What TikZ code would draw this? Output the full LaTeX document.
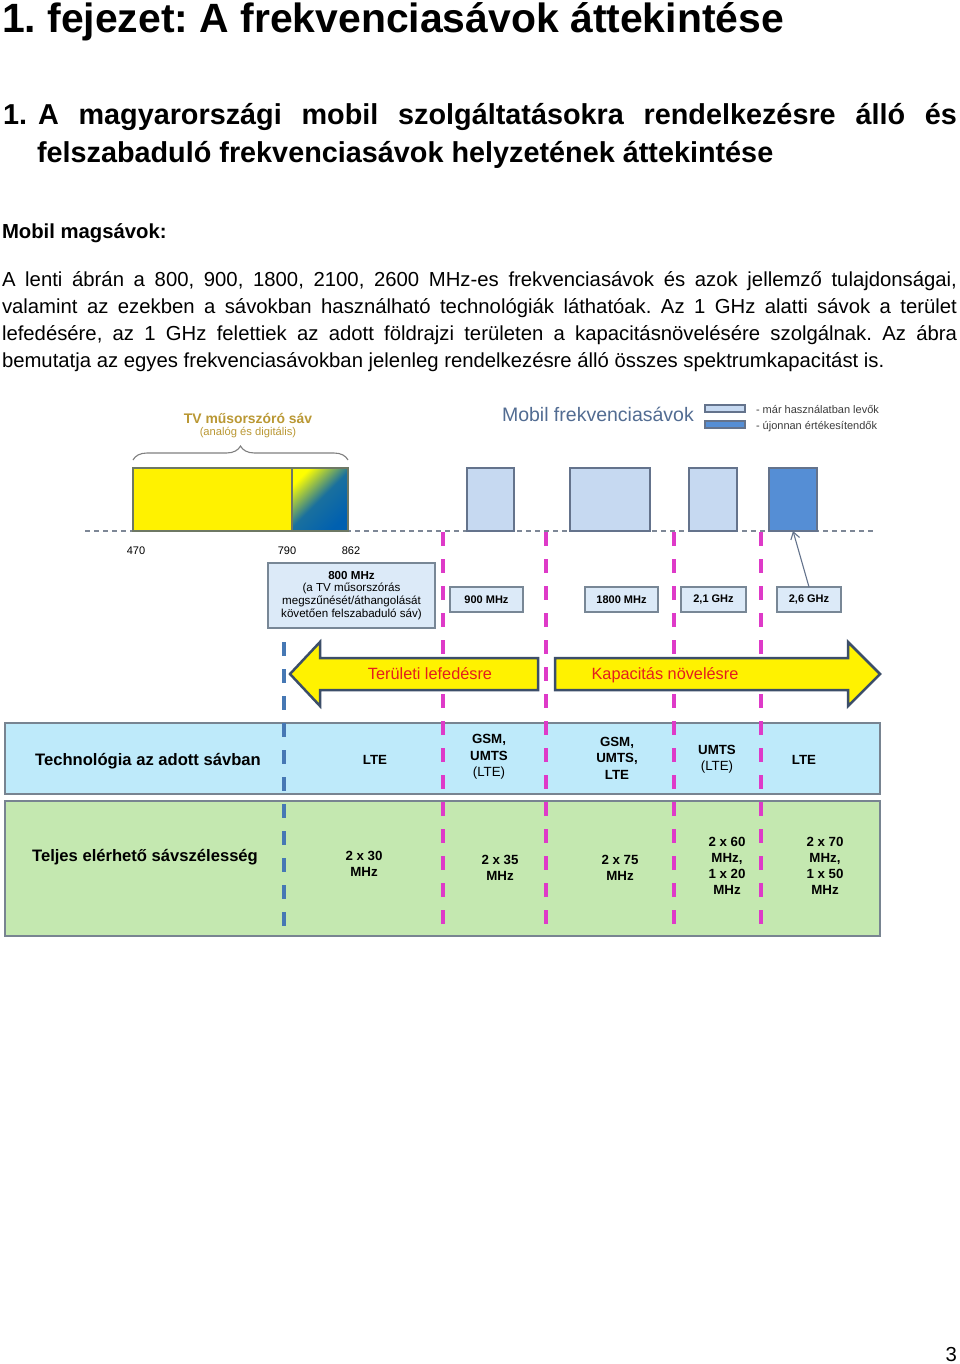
\documentclass[tikz,border=0pt]{standalone}
\usepackage{fontspec}
\setmainfont{Liberation Sans}
\usetikzlibrary{arrows.meta,decorations.pathreplacing}
\definecolor{tvgold}{RGB}{186,152,52}
\definecolor{slate}{RGB}{82,108,146}
\definecolor{bandfill}{RGB}{198,217,241}
\definecolor{bandnew}{RGB}{85,142,213}
\definecolor{bandedge}{RGB}{100,115,140}
\definecolor{labfill}{RGB}{220,234,248}
\definecolor{labedge}{RGB}{120,135,150}
\definecolor{tabblue}{RGB}{190,234,250}
\definecolor{tabgreen}{RGB}{196,232,176}
\definecolor{tabedge}{RGB}{120,132,145}
\definecolor{pinkdash}{RGB}{222,58,200}
\definecolor{bluedash}{RGB}{70,120,180}
\definecolor{basegray}{RGB}{125,135,150}
\definecolor{arrowedge}{RGB}{60,78,105}
\definecolor{arrowred}{RGB}{228,30,30}
\definecolor{tvblue}{RGB}{0,96,176}
\definecolor{tvedge}{RGB}{110,120,100}
\definecolor{legendtxt}{RGB}{60,60,60}
\frenchspacing
\begin{document}
\begin{tikzpicture}[x=1pt,y=-1pt,
  every node/.style={inner sep=0pt, outer sep=0pt},
  bodyline/.style={anchor=base west, font=\fontsize{20.3}{24}\selectfont},
  rbox/.style={anchor=north west, line width=1.2pt},
  bandbox/.style={rbox, draw=bandedge, fill=bandfill},
  bandnewbox/.style={rbox, draw=bandedge, fill=bandnew},
  labbox/.style={rbox, draw=labedge, fill=labfill, line width=1.4pt},
  labtxt/.style={font=\fontsize{11}{13}\selectfont\bfseries},
  freqtxt/.style={font=\fontsize{11}{13}\selectfont},
  pinkline/.style={draw=pinkdash, line width=4pt, dash pattern=on 14pt off 13pt},
  blueline/.style={draw=bluedash, line width=4pt, dash pattern=on 14pt off 13pt},
  bigarrow/.style={fill=yellow, draw=arrowedge, line width=2.5pt, line join=miter},
  arrowtxt/.style={text=arrowred, font=\fontsize{16.3}{19}\selectfont},
  tabbox/.style={rbox, draw=tabedge, line width=1.4pt},
  rowhead/.style={font=\fontsize{16.6}{20}\selectfont\bfseries},
  celltxt/.style={align=center, font=\fontsize{13.3}{16.5}\selectfont},
  cellbold/.style={align=center, font=\fontsize{13.3}{16}\selectfont\bfseries},
  headtxt/.style={anchor=base west, font=\fontsize{28.8}{34}\selectfont\bfseries},
]
\useasboundingbox (0,0) rectangle (960,1364);
\fill[white] (0,0) rectangle (960,1364);

% ---------- page text ----------
\node[anchor=base west, font=\fontsize{40.9}{48}\selectfont\bfseries] (title) at (2,33) {1. fejezet: A frekvenciasávok áttekintése};
\node[headtxt] (hnum) at (3,125) {1.};
\node[headtxt] (h1) at (38,125) {\makebox[919pt][s]{A magyarországi mobil szolgáltatásokra rendelkezésre álló és}};
\node[headtxt] (h2) at (37,163) {felszabaduló frekvenciasávok helyzetének áttekintése};
\node[bodyline, font=\fontsize{20.3}{24}\selectfont\bfseries] (sub) at (2,239) {Mobil magsávok:};
\node[bodyline] (p1) at (2,286) {\makebox[955pt][s]{A lenti ábrán a 800, 900, 1800, 2100, 2600 MHz-es frekvenciasávok és azok jellemző tulajdonságai,}};
\node[bodyline] (p2) at (2,313) {\makebox[955pt][s]{valamint az ezekben a sávokban használható technológiák láthatóak. Az 1 GHz alatti sávok a terület}};
\node[bodyline] (p3) at (2,340) {\makebox[955pt][s]{lefedésére, az 1 GHz felettiek az adott földrajzi területen a kapacitásnövelésére szolgálnak. Az ábra}};
\node[bodyline] (p4) at (2,367) {bemutatja az egyes frekvenciasávokban jelenleg rendelkezésre álló összes spektrumkapacitást is.};
\node[anchor=base east, font=\fontsize{20.3}{24}\selectfont] (pnum) at (957,1361) {3};

% ---------- TV band ----------
\node[text=tvgold, font=\fontsize{13.9}{16}\selectfont\bfseries] (tvt) at (248,418) {TV műsorszóró sáv};
\node[text=tvgold, font=\fontsize{11.2}{13}\selectfont] (tvs) at (248,433) {(analóg és digitális)};
\draw[draw=gray, line width=1.1pt, decorate, decoration={brace, amplitude=14pt}] (133,460) -- (348,460);

% baseline
\draw[draw=basegray, line width=1.6pt, dash pattern=on 5pt off 4pt] (85,531) -- (875,531);

\node[rbox, draw=tvedge, fill=yellow, minimum width=159, minimum height=63] (tvy) at (133,468) {};
\shade[shading=axis, top color=yellow, bottom color=tvblue, middle color=tvblue!90!yellow, shading angle=45] (292,468) rectangle (348,531);
\node[rbox, draw=tvedge, minimum width=56, minimum height=63] (tvg) at (292,468) {};

% mobile bands
\node[bandbox, minimum width=47, minimum height=63] (b900) at (467,468) {};
\node[bandbox, minimum width=80, minimum height=63] (b1800) at (570,468) {};
\node[bandbox, minimum width=48, minimum height=63] (b2100) at (689,468) {};
\node[bandnewbox, minimum width=48, minimum height=63] (b2600) at (769,468) {};

% legend
\node[anchor=base west, text=slate, font=\fontsize{19.5}{23}\selectfont] (legt) at (502,421) {Mobil frekvenciasávok};
\node[bandbox, minimum width=40, minimum height=7] (lg1) at (705,405) {};
\node[bandnewbox, minimum width=40, minimum height=7] (lg2) at (705,421) {};
\node[anchor=base west, text=legendtxt, font=\fontsize{11}{12}\selectfont] (lgt1) at (756,413) {- már használatban levők};
\node[anchor=base west, text=legendtxt, font=\fontsize{11}{12}\selectfont] (lgt2) at (756,429) {- újonnan értékesítendők};

% frequency numbers
\node[freqtxt] (f470) at (136,551) {470};
\node[freqtxt] (f790) at (287,551) {790};
\node[freqtxt] (f862) at (351,551) {862};

% ---------- tables (background) ----------
\node[tabbox, fill=tabblue, minimum width=875, minimum height=71] (tab1) at (5,723) {};
\node[tabbox, fill=tabgreen, minimum width=875, minimum height=135] (tab2) at (5,801) {};

% dashed separators
\draw[pinkline] (443,532) -- (443,930);
\draw[pinkline] (546,532) -- (546,930);
\draw[pinkline] (674,532) -- (674,930);
\draw[pinkline] (761,532) -- (761,930);
\draw[blueline] (284,642) -- (284,930);

% label boxes
\node[labbox, minimum width=167, minimum height=65] (l800) at (268,563) {};
\node[align=center, font=\fontsize{11.6}{12.8}\selectfont] (l800t) at (l800.center) {\textbf{800 MHz}\\(a TV műsorszórás\\megszűnését/áthangolását\\követően felszabaduló sáv)};
\node[labbox, minimum width=73, minimum height=25] (l900) at (450,587) {};
\node[labtxt] at (l900.center) {900 MHz};
\node[labbox, minimum width=73, minimum height=25] (l1800) at (585,587) {};
\node[labtxt] at (l1800.center) {1800 MHz};
\node[labbox, minimum width=65, minimum height=25] (l21) at (681,587) {};
\node[labtxt] at (l21.center) {2,1 GHz};
\node[labbox, minimum width=64, minimum height=25] (l26) at (777,587) {};
\node[labtxt] at (l26.center) {2,6 GHz};
\draw[draw=bandedge, line width=1.1pt, -{Straight Barb[length=7pt,width=9pt]}] (l26.north) -- (b2600.south);

% ---------- yellow arrows ----------
\draw[bigarrow] (290,674) -- (320,642) -- (320,658) -- (538,658) -- (538,690) -- (320,690) -- (320,706) -- cycle;
\draw[bigarrow] (555,658) -- (848,658) -- (848,642) -- (880,674) -- (848,706) -- (848,690) -- (555,690) -- cycle;
\node[arrowtxt] (a1) at (430,674) {Területi lefedésre};
\node[arrowtxt] (a2) at (665,675) {Kapacitás növelésre};

% ---------- table texts ----------
\node[rowhead] (th1) at (148,761) {Technológia az adott sávban};
\node[cellbold] (t1a) at (375,760) {LTE};
\node[celltxt] (t1b) at (489,757) {\textbf{GSM,}\\\textbf{UMTS}\\(LTE)};
\node[celltxt] (t1c) at (617,758) {\textbf{GSM,}\\\textbf{UMTS,}\\\textbf{LTE}};
\node[celltxt] (t1d) at (717,759) {\textbf{UMTS}\\(LTE)};
\node[cellbold] (t1e) at (804,760) {LTE};

\node[rowhead] (th2) at (145,857) {Teljes elérhető sávszélesség};
\node[cellbold] (t2a) at (364,864) {2 x 30\\MHz};
\node[cellbold] (t2b) at (500,868) {2 x 35\\MHz};
\node[cellbold] (t2c) at (620,868) {2 x 75\\MHz};
\node[cellbold] (t2d) at (727,866) {2 x 60\\MHz,\\1 x 20\\MHz};
\node[cellbold] (t2e) at (825,866) {2 x 70\\MHz,\\1 x 50\\MHz};
\end{tikzpicture}
\end{document}
